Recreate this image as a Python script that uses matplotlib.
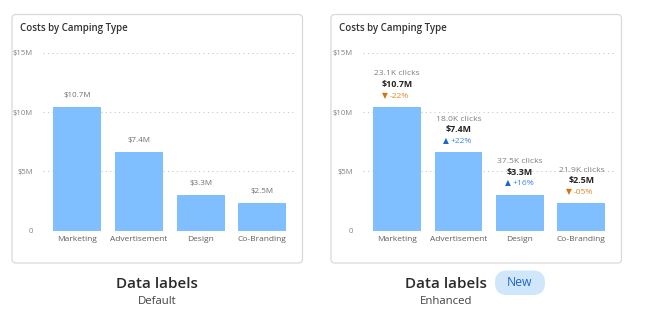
import matplotlib.pyplot as plt
from matplotlib.patches import FancyBboxPatch

plt.rcParams['font.family'] = ['Open Sans', 'DejaVu Sans']

# data
categories = ["Marketing", "Advertisement", "Design", "Co-Branding"]
costs = [10.4, 6.6, 3.0, 2.3]          # bar heights in $M as drawn
cost_labels = ["$10.7M", "$7.4M", "$3.3M", "$2.5M"]
clicks = ["23.1K clicks", "18.0K clicks", "37.5K clicks", "21.9K clicks"]
changes = ["-22%", "+22%", "+16%", "-05%"]
yticks = [0, 5, 10, 15]
ytick_labels = ["0", "$5M", "$10M", "$15M"]

bar_color = "#80BFFF"
up_arrow, up_text = "#1F66CC", "#3D86E6"
down_arrow, down_text = "#D9730D", "#E08A2E"

fig = plt.figure(figsize=(6.53, 3.27), dpi=100)

# background layer in pixel coordinates for cards and captions
bg = fig.add_axes([0, 0, 1, 1], zorder=0)
bg.set_xlim(0, 653)
bg.set_ylim(327, 0)
bg.axis("off")
for x0 in (12, 331):
    bg.add_patch(FancyBboxPatch((x0, 14.5), 290.5, 248.5,
                                boxstyle="round,pad=0,rounding_size=4",
                                fc="white", ec="#D9D9D9", lw=0.9))
    bg.text(x0 + 8, 28.5, "Costs by Camping Type", fontsize=7,
            fontweight="semibold", color="#333333", va="center", ha="left")

bg.text(157, 284, "Data labels", fontsize=11, fontweight="semibold",
        color="#2B2B2B", ha="center", va="center")
bg.text(157, 301, "Default", fontsize=8.2, color="#424242", ha="center", va="center")
bg.text(446, 284, "Data labels", fontsize=11, fontweight="semibold",
        color="#2B2B2B", ha="center", va="center")
bg.text(446, 301, "Enhanced", fontsize=8.2, color="#424242", ha="center", va="center")
bg.add_patch(FancyBboxPatch((495, 270.5), 50, 24.5,
                            boxstyle="round,pad=0,rounding_size=12",
                            fc="#CFE6FB", ec="none"))
bg.text(520, 283, "New", fontsize=8.8, color="#1F66CC",
        ha="center", va="center")


def setup(ax):
    x = range(len(categories))
    bars = ax.bar(x, costs, width=0.78, color=bar_color, zorder=2)
    ax.set_xlim(-0.56, 3.53)
    ax.set_ylim(0, 15)
    ax.set_yticks(yticks)
    ax.set_yticklabels(ytick_labels)
    ax.set_xticks(list(x))
    ax.set_xticklabels(categories)
    ax.tick_params(axis="y", length=0, pad=7, labelsize=5.5, labelcolor="#808080")
    ax.tick_params(axis="x", length=0, pad=4, labelsize=6, labelcolor="#605E5C")
    for s in ax.spines.values():
        s.set_visible(False)
    ax.grid(axis="y", color="#C8C8C8", linestyle=(0, (1, 3)), lw=0.8, zorder=1)
    ax.set_facecolor("none")
    return bars


ax1 = fig.add_axes([0.0654, 0.2945, 0.3864, 0.5443], zorder=1)
setup(ax1)
for i, v in enumerate(costs):
    ax1.annotate(cost_labels[i], (i, v), xytext=(0, 8.5), textcoords="offset points",
                 ha="center", va="center", fontsize=5.8, color="#707070")

ax2 = fig.add_axes([0.5554, 0.2945, 0.3848, 0.5443], zorder=1)
setup(ax2)
for i, v in enumerate(costs):
    ax2.annotate(clicks[i], (i, v), xytext=(0, 24), textcoords="offset points",
                 ha="center", va="center", fontsize=6.1, color="#808080")
    ax2.annotate(cost_labels[i], (i, v), xytext=(0, 16.5), textcoords="offset points",
                 ha="center", va="center", fontsize=6.4, fontweight="bold", color="#252423")
    up = changes[i].startswith("+")
    arrow = "\u25B2" if up else "\u25BC"
    ax2.annotate(arrow, (i, v), xytext=(-9, 8), textcoords="offset points",
                 ha="center", va="center", fontsize=5.5,
                 color=up_arrow if up else down_arrow)
    ax2.annotate(changes[i], (i, v), xytext=(-5.5, 8), textcoords="offset points",
                 ha="left", va="center", fontsize=6.1,
                 color=up_text if up else down_text)

fig.savefig("out.png", dpi=100)
